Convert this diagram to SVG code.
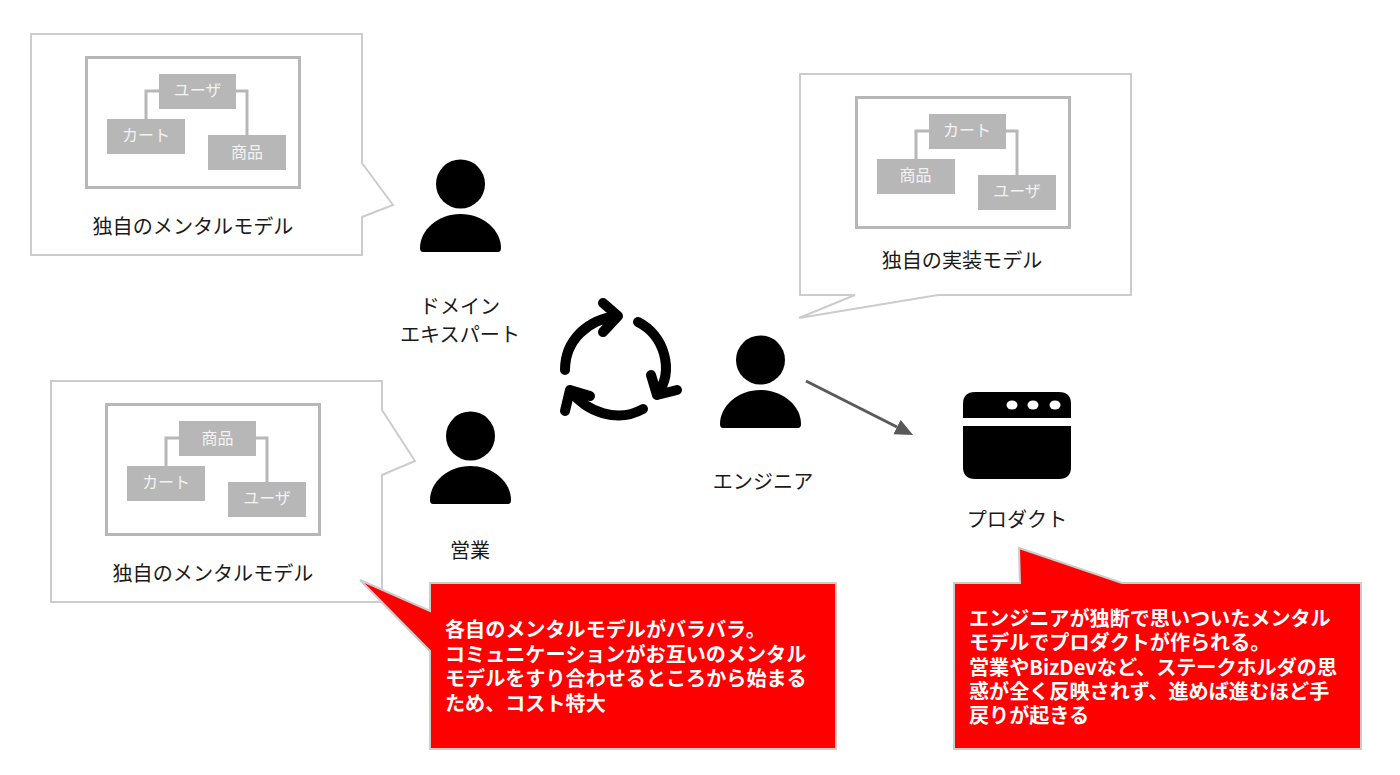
<svg xmlns="http://www.w3.org/2000/svg" xmlns:xlink="http://www.w3.org/1999/xlink" width="1400" height="775" viewBox="0 0 1400 775">
<style>
text{font-family:"Noto Sans CJK JP","Noto Sans",sans-serif}
.callout{fill:#fff;stroke:#cccccc;stroke-width:2}
.red{fill:#ff0000;stroke:#cccccc;stroke-width:2}
.frame{fill:#fff;stroke:#b7b7b7;stroke-width:3}
.box{fill:#b7b7b7}
.elbow{fill:none;stroke:#b7b7b7;stroke-width:3}
.boxt{font-size:16px;fill:#f3f3f3;text-anchor:middle}
.lbl{font-size:20.100px;fill:#1a1a1a;text-anchor:middle}
.note{font-size:20.100px;font-weight:700;fill:#fff}
.cyc{fill:none;stroke:#000;stroke-width:10;stroke-linecap:round;stroke-linejoin:round}
.link{fill:none;stroke:#595959;stroke-width:3}
</style>
<defs>
<g id="person"><circle cx="40.500" cy="24" r="24.500"/><path d="M0 88C0 70 18 54 40.500 54S81 70 81 88Q81 92 78 92H3Q0 92 0 88Z"/></g>
<marker id="ah" markerUnits="userSpaceOnUse" markerWidth="20" markerHeight="18" refX="0" refY="8" orient="auto"><path d="M0 0L18 8L0 16Z" fill="#595959"/></marker>
</defs>
<g id="callout-domain">
<path class="callout" d="M31 34H362V163L393 205L362 217V255H31Z"/>
<rect class="frame" x="86.500" y="57.500" width="213" height="130"/>
<path class="elbow" d="M159 91H146V119M236 91H247V135"/>
<rect class="box" x="159" y="74" width="77" height="35"/><text class="boxt" x="197.500" y="96">ユーザ</text>
<rect class="box" x="107" y="119" width="78" height="35"/><text class="boxt" x="146" y="141">カート</text>
<rect class="box" x="208" y="135" width="78" height="35"/><text class="boxt" x="247" y="158">商品</text>
<text class="lbl" x="193" y="234">独自のメンタルモデル</text>
</g>
<g id="callout-sales">
<path class="callout" d="M51 381H382V410L415 461L382 475V602H51Z"/>
<rect class="frame" x="106.500" y="404.500" width="213" height="130"/>
<path class="elbow" d="M179 438H166V466M256 438H267V482"/>
<rect class="box" x="179" y="421" width="77" height="35"/><text class="boxt" x="217.500" y="444">商品</text>
<rect class="box" x="127" y="466" width="78" height="35"/><text class="boxt" x="166" y="488">カート</text>
<rect class="box" x="228" y="482" width="78" height="35"/><text class="boxt" x="267" y="504">ユーザ</text>
<text class="lbl" x="213" y="581">独自のメンタルモデル</text>
</g>
<g id="callout-engineer">
<path class="callout" d="M800 74H1131V295H938L799 318L855 295H800Z"/>
<rect class="frame" x="856.500" y="97.500" width="213" height="130"/>
<path class="elbow" d="M929 131H916V159M1006 131H1017V175"/>
<rect class="box" x="929" y="114" width="77" height="35"/><text class="boxt" x="967" y="136">カート</text>
<rect class="box" x="877" y="159" width="78" height="35"/><text class="boxt" x="915.500" y="181">商品</text>
<rect class="box" x="978" y="175" width="78" height="35"/><text class="boxt" x="1017" y="197">ユーザ</text>
<text class="lbl" x="962" y="268">独自の実装モデル</text>
</g>
<g id="domain-expert">
<use xlink:href="#person" href="#person" x="420" y="160"/>
<text class="lbl" x="460" y="314">ドメイン</text>
<text class="lbl" x="460" y="342">エキスパート</text>
</g>
<g id="sales">
<use xlink:href="#person" href="#person" x="430" y="412"/>
<text class="lbl" x="470" y="558">営業</text>
</g>
<g id="engineer">
<use xlink:href="#person" href="#person" x="720" y="336"/>
<text class="lbl" x="763" y="489">エンジニア</text>
</g>
<g id="cycle">
<path class="cyc" d="M565 370C565 340 588 319 618 316M603 303L618 316L603 332"/>
<path class="cyc" d="M638 322C664 335 675 370 657 395M651 375L657 395L677 390"/>
<path class="cyc" d="M643 409C618 423 587 413 570 390M590 396L570 390L565 411"/>
</g>
<g id="product">
<path d="M963 418V404Q963 392 975 392H1059Q1071 392 1071 404V418Z"/>
<path d="M963 426H1071V467Q1071 479 1059 479H975Q963 479 963 467Z"/>
<ellipse cx="1012" cy="405" rx="5.500" ry="4.500" fill="#fff"/><ellipse cx="1033" cy="405" rx="5.500" ry="4.500" fill="#fff"/><ellipse cx="1055" cy="405" rx="5.500" ry="4.500" fill="#fff"/>
<text class="lbl" x="1017" y="527">プロダクト</text>
</g>
<g id="note-left">
<path class="red" d="M430 583H836V749H430V651L360 580L430 611Z"/>
<text class="note"><tspan x="445" y="637">各自のメンタルモデルがバラバラ。</tspan><tspan x="445" y="661.500">コミュニケーションがお互いのメンタル</tspan><tspan x="445" y="686">モデルをすり合わせるところから始まる</tspan><tspan x="445" y="710.500">ため、コスト特大</tspan></text>
</g>
<g id="note-right">
<path class="red" d="M954 583H1020L1019 548L1122 583H1361V749H954Z"/>
<text class="note"><tspan x="969" y="626">エンジニアが独断で思いついたメンタル</tspan><tspan x="969" y="650.300">モデルでプロダクトが作られる。</tspan><tspan x="969" y="674.600">営業やBizDevなど、ステークホルダの思</tspan><tspan x="969" y="698.900">惑が全く反映されず、進めば進むほど手</tspan><tspan x="969" y="723.200">戻りが起きる</tspan></text>
</g>
<g id="connectors">
<path class="link" d="M806 381L897 427" marker-end="url(#ah)"/>
</g>
</svg>
